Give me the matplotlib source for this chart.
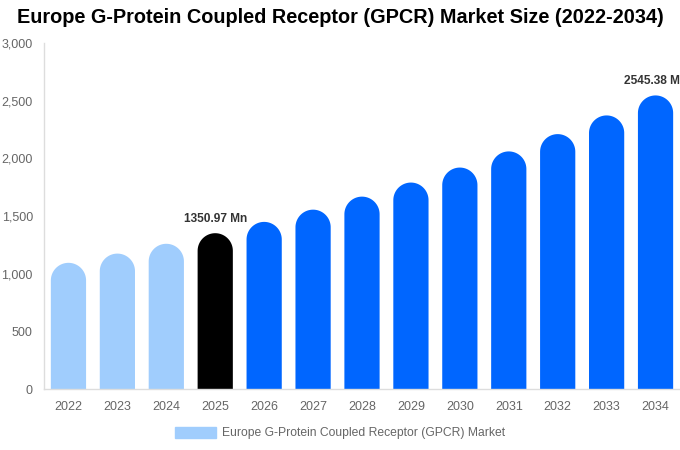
import numpy as np
import matplotlib
matplotlib.use("Agg")
from matplotlib import pyplot as plt
from matplotlib.patches import Rectangle, Polygon

plt.rcParams['font.family'] = ['Liberation Sans', 'DejaVu Sans']

years = ["2022", "2023", "2024", "2025", "2026", "2027", "2028",
         "2029", "2030", "2031", "2032", "2033", "2034"]
values = [1094, 1174, 1259, 1350.97, 1449, 1555, 1668,
          1790, 1920, 2060, 2210, 2372, 2545.38]
colors = ["#a0cdfd"] * 3 + ["#000000"] + ["#0066ff"] * 9
labels = {3: "1350.97 Mn", 12: "2545.38 Mn"}

fig = plt.figure(figsize=(6.8, 4.5), dpi=100)
ax = fig.add_axes([44 / 680, 61 / 450, 636 / 680, 346 / 450])
ax.set_xlim(-0.5, len(years) - 0.5)
ax.set_ylim(0, 3000)

# size of a round cap in data units (half bar width in pixels)
width = 0.72
ax_w_px = 636
ax_h_px = 346
px_per_x = ax_w_px / len(years)
r_px = width * px_per_x / 2
r_y = r_px * 3000 / ax_h_px
theta = np.linspace(0, np.pi, 60)

for i, (v, c) in enumerate(zip(values, colors)):
    # bar with a half-round top, one polygon so no seam
    cx = i + (width / 2) * np.cos(theta)
    cy = (v - r_y) + r_y * np.sin(theta)
    xs = np.concatenate([[i + width / 2], cx, [i - width / 2]])
    ys = np.concatenate([[0], cy, [0]])
    ax.add_patch(Polygon(np.column_stack([xs, ys]), closed=True, color=c, lw=0))
    if i in labels:
        ax.text(i, v + 75, labels[i], ha="center", va="bottom",
                fontsize=8.6, fontweight="bold", color="#333333", clip_on=False)

ax.set_xticks(range(len(years)))
ax.set_xticklabels(years)
ax.set_yticks(range(0, 3001, 500))
ax.set_yticklabels([f"{t:,}" for t in range(0, 3001, 500)])
ax.tick_params(length=0, labelsize=9, labelcolor="#666666")
ax.tick_params(axis="x", pad=9)
ax.tick_params(axis="y", pad=8)
for s in ["top", "right"]:
    ax.spines[s].set_visible(False)
for s in ["left", "bottom"]:
    ax.spines[s].set_color("#dddddd")
    ax.spines[s].set_linewidth(1)

fig.suptitle("Europe G-Protein Coupled Receptor (GPCR) Market Size (2022-2034)",
             x=0.5, y=0.982, fontsize=14.3, fontweight="bold", color="#000000")

handle = Rectangle((0, 0), 1, 1, color="#a0cdfd")
fig.legend([handle], ["Europe G-Protein Coupled Receptor (GPCR) Market"],
           loc="center", bbox_to_anchor=(0.5, 1 - 433 / 450), frameon=False,
           fontsize=8.7, labelcolor="#666666", handlelength=3.4, handleheight=1.0,
           handletextpad=0.5)

fig.savefig("out.png", dpi=100)
